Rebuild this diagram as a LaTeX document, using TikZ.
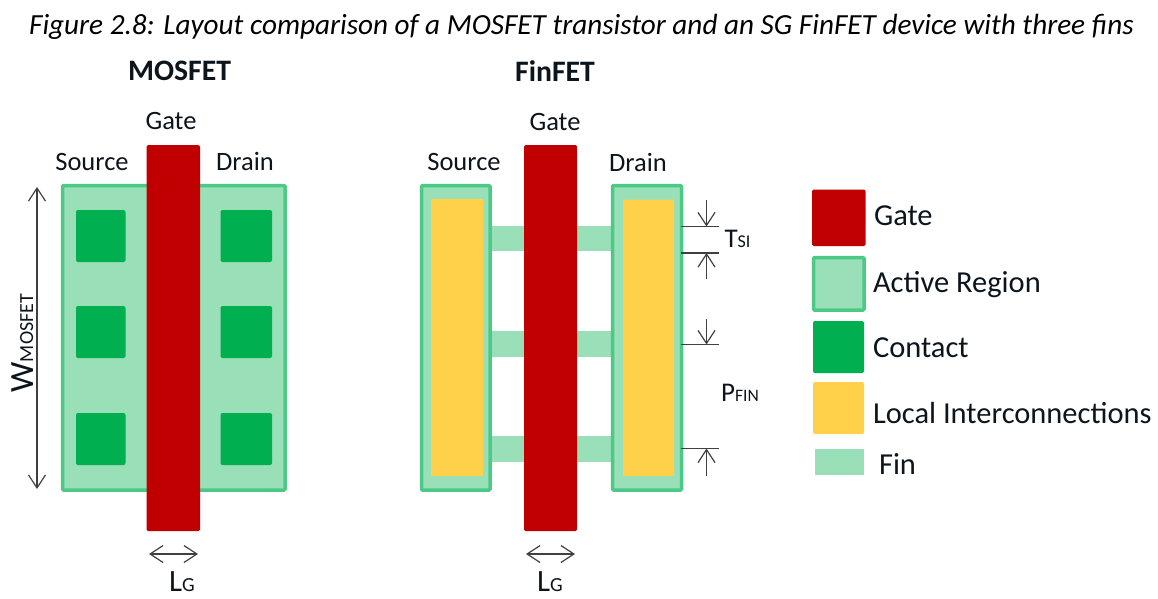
\documentclass[tikz,border=0pt]{standalone}
\usepackage{fontspec}
\setmainfont{Carlito}
\usetikzlibrary{arrows.meta}
\definecolor{gatered}{HTML}{C00000}
\definecolor{activefill}{HTML}{99DFB8}
\definecolor{activeedge}{HTML}{4CC985}
\definecolor{contactgreen}{HTML}{00AF50}
\definecolor{localyellow}{HTML}{FFD04A}
\definecolor{dimgray}{HTML}{404040}
\definecolor{labelink}{HTML}{0C141C}
\tikzset{
  x=1pt,y=-1pt,
  plain/.style={inner sep=0pt,outer sep=0pt,rectangle},
  gatebox/.style={plain,fill=gatered,rounded corners=1.5pt},
  activebox/.style={plain,fill=activefill,draw=activeedge,line width=3.5pt,rounded corners=1pt},
  contactbox/.style={plain,fill=contactgreen,rounded corners=2pt},
  localbox/.style={plain,fill=localyellow,rounded corners=1pt},
  finbox/.style={plain,fill=activefill},
  lbl/.style={inner sep=0pt,outer sep=0pt,text=labelink,font=\fontsize{26.5}{28}\selectfont},
  small/.style={lbl},
  keytext/.style={lbl,anchor=west,font=\fontsize{30.5}{32}\selectfont},
  dimline/.style={draw=dimgray,line width=1.2pt},
  dimarrow/.style={draw=dimgray,line width=1.2pt,-{Straight Barb[length=13pt,width=17pt,line width=1.2pt]}},
  bothway/.style={draw=dimgray,line width=1.2pt,{Straight Barb[length=13pt,width=17pt,line width=1.2pt]}-{Straight Barb[length=13pt,width=17pt,line width=1.2pt]}},
}
% name, style, x1, y1, x2, y2
\newcommand{\pxbox}[6]{\node[#2,minimum width={(#5-#3)*1pt},minimum height={(#6-#4)*1pt}] (#1) at ({(#3+#5)/2},{(#4+#6)/2}) {};}
\newcommand{\subs}[2]{{\fontsize{31}{31}\selectfont #1}{\fontsize{20}{20}\selectfont #2}}
\begin{document}
\begin{tikzpicture}
\useasboundingbox (0,0) rectangle (1158,598);
% caption and titles
\node[lbl,font=\fontsize{29.2}{30}\selectfont\itshape,text=black] (caption) at (581.5,27) {Figure 2.8: Layout comparison of a MOSFET transistor and an SG FinFET device with three fins};
\node[lbl,font=\fontsize{29.7}{30}\selectfont\bfseries] (titleM) at (179.5,71) {MOSFET};
\node[lbl,font=\fontsize{29.7}{30}\selectfont\bfseries] (titleF) at (555,71) {FinFET};
% MOSFET
\pxbox{mactive}{activebox}{62.5}{185.5}{285}{490}
\foreach \n/\a/\b in {1/210/262,2/306/358,3/413/465}{
  \pxbox{mcl\n}{contactbox}{76}{\a}{125.5}{\b}
  \pxbox{mcr\n}{contactbox}{220.5}{\a}{272}{\b}
}
\pxbox{mgate}{gatebox}{146.5}{145}{200}{531}
\node[small] (mgatel) at (171,121) {Gate};
\node[small] (msrc) at (92,162) {Source};
\node[small] (mdrn) at (245,161) {Drain};
% FinFET
\foreach \n/\a/\b in {1/226/251,2/331/357,3/436/462}{
  \pxbox{fin\n}{finbox}{489}{\a}{613}{\b}
}
\pxbox{factL}{activebox}{421.5}{185.5}{490}{490}
\pxbox{factR}{activebox}{612.5}{185.5}{681.5}{490}
\pxbox{locL}{localbox}{431}{199}{483}{476}
\pxbox{locR}{localbox}{623}{199.5}{674}{476}
\pxbox{fgate}{gatebox}{524}{145}{577}{531}
\node[small] (fgatel) at (555,122) {Gate};
\node[small] (fsrc) at (464,162) {Source};
\node[small] (fdrn) at (638,162) {Drain};
% MOSFET width
\coordinate (wtop) at (37,187);
\coordinate (wbot) at (37,489);
\draw[bothway] (wtop) -- (wbot);
\node[lbl,rotate=90,anchor=base] (wlabel) at (33,343) {{\fontsize{34}{34}\selectfont W}{\fontsize{20}{20}\selectfont MOSFET}};
% gate length
\coordinate (lg1a) at (149,554); \coordinate (lg1b) at (198,554);
\draw[bothway] (lg1a) -- (lg1b);
\node[lbl,anchor=base] (lg1) at (182,591) {\subs{L}{G}};
\coordinate (lg2a) at (526,554); \coordinate (lg2b) at (575,554);
\draw[bothway] (lg2a) -- (lg2b);
\node[lbl,anchor=base] (lg2) at (550,591) {\subs{L}{G}};
% fin dimensions
\foreach \n/\y in {a/226.5,b/253,c/344.5,d/448.5}{
  \coordinate (tick\n L) at (681,\y);
  \coordinate (tick\n R) at (719,\y);
  \coordinate (tick\n M) at (706.5,\y);
  \draw[dimline] (tick\n L) -- (tick\n R);
}
\coordinate (arrA) at (706.5,200);
\coordinate (arrB) at (706.5,279);
\coordinate (arrC) at (706.5,319);
\coordinate (arrD) at (706.5,476);
\draw[dimarrow] (arrA) -- (tickaM);
\draw[dimarrow] (arrB) -- (tickbM);
\draw[dimarrow] (arrC) -- (tickcM);
\draw[dimarrow] (arrD) -- (tickdM);
\node[lbl,anchor=base] (tsi) at (737.5,247.5) {{\fontsize{27}{27}\selectfont T}{\fontsize{18}{18}\selectfont SI}};
\node[lbl,anchor=base] (pfin) at (740,401) {{\fontsize{27}{27}\selectfont P}{\fontsize{17.5}{18}\selectfont FIN}};
% legend
\pxbox{kgate}{gatebox}{812}{189.5}{865.5}{246}
\pxbox{kactive}{activebox}{813.5}{257.5}{864}{310}
\pxbox{kcontact}{contactbox}{813}{321}{864}{373}
\pxbox{klocal}{contactbox,fill=localyellow}{813}{382}{864}{434}
\pxbox{kfin}{finbox}{814.5}{449}{864}{475}
\node[keytext] (tgate) at (874,216) {Gate};
\node[keytext] (tactive) at (873,284.5) {Active Region};
\node[keytext] (tcontact) at (873,348) {Contact};
\node[keytext] (tlocal) at (873,413) {Local Interconnections};
\node[keytext] (tfin) at (879,464) {Fin};
\end{tikzpicture}
\end{document}
